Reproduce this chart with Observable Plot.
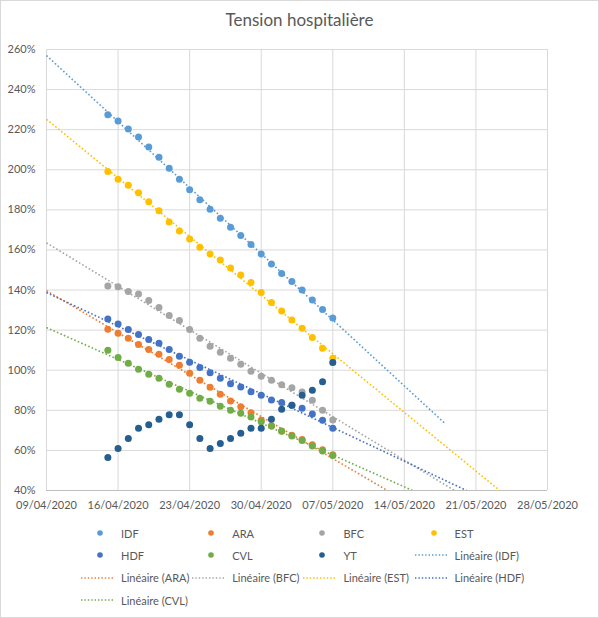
<!DOCTYPE html>
<html>
<head>
<meta charset="utf-8">
<script src="https://cdn.jsdelivr.net/npm/d3@7"></script>
<script src="https://cdn.jsdelivr.net/npm/@observablehq/plot@0.6"></script>
<style>
  html, body { margin: 0; padding: 0; background: #fff; }
  #chart { position: relative; width: 599px; height: 618px; overflow: hidden; font-family: Lato, "Liberation Sans", sans-serif; color: #595959; }
  #frame { position: absolute; left: 0; top: 0; width: 599px; height: 618px; box-sizing: border-box; border: 1px solid #D9D9D9; pointer-events: none; }
  #title { position: absolute; left: 0; top: 9px; width: 599px; text-align: center; font-size: 17px; color: #595959; }
  #plot { position: absolute; left: 0; top: 35px; }
  .leg { position: absolute; height: 16px; display: flex; align-items: center; font-size: 11px; color: #595959; white-space: nowrap; }
  .leg svg { margin-right: 6px; }
</style>
</head>
<body>
<div id="chart">
  <div id="title">Tension hospitalière</div>
  <div id="plot"></div>
  <div id="frame"></div>
</div>
<script>
// ---- data ----
const dates = ["2020-04-15","2020-04-16","2020-04-17","2020-04-18","2020-04-19","2020-04-20","2020-04-21","2020-04-22",
  "2020-04-23","2020-04-24","2020-04-25","2020-04-26","2020-04-27","2020-04-28","2020-04-29","2020-04-30",
  "2020-05-01","2020-05-02","2020-05-03","2020-05-04","2020-05-05","2020-05-06","2020-05-07"];
const seriesNames = ["IDF", "ARA", "BFC", "EST", "HDF", "CVL", "YT"];
const seriesColors = ["#5B9BD5", "#ED7D31", "#A5A5A5", "#FFC000", "#4472C4", "#70AD47", "#255E91"];
const IDF = [227.5, 224.3, 220.3, 216.3, 211.3, 206.3, 200.8, 195.3, 190, 185, 180.3, 175.8, 171.3, 167.2, 162.7, 158, 153, 148.3, 144.3, 140, 135, 130.3, 126];
const ARA = [120.5, 118.5, 116, 112.8, 110.3, 108, 105.3, 102.5, 98.5, 95, 91.5, 88, 84.7, 81.8, 78.8, 75, 72.2, 69.7, 67.6, 65.5, 62.8, 60.3, 57.8];
const BFC = [142, 141.7, 139.3, 138, 134.8, 131.3, 127.3, 124.8, 120.3, 116, 112, 109, 106, 103, 99.5, 97, 95, 92.8, 91.3, 89.2, 85, 80, 75.2];
const EST = [199.2, 195.3, 192.3, 188.5, 184, 179.5, 174, 169.5, 165.5, 161.3, 158, 155, 151, 147.5, 143.8, 138.8, 133.8, 129.5, 125, 121, 116.3, 111, 106];
const HDF = [125.5, 123, 120.3, 117.8, 115.3, 113.5, 110.3, 107, 104, 101.3, 98.7, 96, 93.2, 91.6, 89.3, 87.5, 85.2, 83.9, 82.5, 81, 78.2, 75, 71];
const CVL = [110, 106.3, 103.5, 100.5, 98, 96, 93, 90.5, 88.5, 86, 84.5, 82, 80, 78.5, 76.7, 74.3, 72.2, 69.5, 67.2, 65, 62.2, 59.7, 57.5];
const YT  = [56.5, 61, 66, 71, 72.8, 75.5, 77.8, 77.8, 72.8, 66, 61, 63.5, 66, 68.5, 71, 71, 75.5, 80.5, 82.5, 87.5, 90, 94.3, 103.8];
// trendlines (Excel "Linéaire"), with backward/forward forecast dates
const trendSeries = ["IDF", "ARA", "BFC", "EST", "HDF", "CVL"];
const trendStart = ["2020-04-09", "2020-04-09", "2020-04-09", "2020-04-09", "2020-04-09", "2020-04-09"];
const trendEnd   = ["2020-05-18", "2020-05-28", "2020-05-28", "2020-05-28", "2020-05-28", "2020-05-28"];
const xTicks = ["2020-04-09","2020-04-16","2020-04-23","2020-04-30","2020-05-07","2020-05-14","2020-05-21","2020-05-28"];
const yTicks = [40, 60, 80, 100, 120, 140, 160, 180, 200, 220, 240, 260];

// ---- build tables ----
const values = {IDF, ARA, BFC, EST, HDF, CVL, YT};
const colorOf = Object.fromEntries(seriesNames.map((s, i) => [s, seriesColors[i]]));
const parse = s => new Date(s + "T00:00:00Z");
const DAY = 864e5;
const points = [];
seriesNames.forEach(s => values[s].forEach((v, i) => points.push({series: s, date: parse(dates[i]), value: v})));

const t0 = parse(dates[0]);
const trendRows = [];
trendSeries.forEach((s, k) => {
  const xs = dates.map(d => (parse(d) - t0) / DAY);
  const ys = values[s];
  const n = xs.length;
  const mx = d3.mean(xs), my = d3.mean(ys);
  let sxy = 0, sxx = 0;
  for (let i = 0; i < n; i++) { sxy += (xs[i] - mx) * (ys[i] - my); sxx += (xs[i] - mx) ** 2; }
  const b = sxy / sxx, a = my - b * mx;
  [trendStart[k], trendEnd[k]].forEach(d => {
    const dt = parse(d);
    const x = (dt - t0) / DAY;
    trendRows.push({series: s, date: dt, value: a + b * x});
  });
});

const fmt = d3.utcFormat("%d/%m/%Y");
const tickDates = xTicks.map(parse);

const plot = Plot.plot({
  width: 599,
  height: 480,
  marginLeft: 46,
  marginRight: 52,
  marginTop: 14,
  marginBottom: 25,
  style: {fontFamily: 'Lato, "Liberation Sans", sans-serif', fontSize: "11px", color: "#595959", background: "transparent", overflow: "visible"},
  x: {type: "utc", domain: [parse(xTicks[0]), parse(xTicks[xTicks.length - 1])]},
  y: {domain: [yTicks[0], yTicks[yTicks.length - 1]]},
  color: {domain: seriesNames, range: seriesColors},
  marks: [
    Plot.gridX(tickDates, {stroke: "#D9D9D9", strokeOpacity: 1, strokeWidth: 1}),
    Plot.gridY(yTicks, {stroke: "#D9D9D9", strokeOpacity: 1, strokeWidth: 1}),
    Plot.ruleY([yTicks[0]], {stroke: "#BFBFBF", strokeWidth: 1}),
    Plot.axisX(tickDates, {tickSize: 0, tickPadding: 11, tickFormat: fmt, label: null, fill: "#595959"}),
    Plot.axisY(yTicks, {tickSize: 0, tickPadding: 11, tickFormat: d => d + "%", label: null, fill: "#595959"}),
    Plot.line(trendRows, {x: "date", y: "value", z: "series", stroke: d => colorOf[d.series], strokeWidth: 1.6, strokeDasharray: "1.6,2.2", strokeLinecap: "butt", clip: true}),
    Plot.dot(points, {x: "date", y: "value", fill: "series", r: 3.5, stroke: null})
  ]
});
document.getElementById("plot").appendChild(plot);

// ---- legend ----
const legendItems = [
  ...seriesNames.map(s => ({label: s, kind: "dot", color: colorOf[s]})),
  ...trendSeries.map(s => ({label: `Linéaire (${s})`, kind: "line", color: colorOf[s]}))
];
const chart = document.getElementById("chart");
legendItems.forEach((it, i) => {
  const col = i % 4, row = Math.floor(i / 4);
  const el = document.createElement("div");
  el.className = "leg";
  el.style.left = (81 + col * 111.2) + "px";
  el.style.top = (525 + row * 22.4) + "px";
  const sw = it.kind === "dot"
    ? `<svg width="34" height="10"><circle cx="19" cy="5" r="2.8" fill="${it.color}"/></svg>`
    : `<svg width="34" height="10"><line x1="0" y1="5" x2="34" y2="5" stroke="${it.color}" stroke-width="1.4" stroke-dasharray="1.4,2"/></svg>`;
  el.innerHTML = sw + `<span>${it.label}</span>`;
  chart.appendChild(el);
});
</script>
</body>
</html>
